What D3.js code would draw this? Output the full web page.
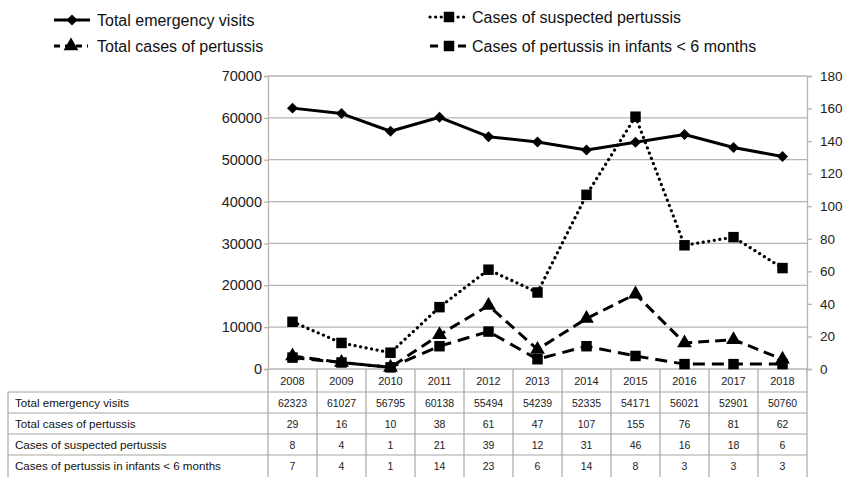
<!DOCTYPE html>
<html>
<head>
<meta charset="utf-8">
<script src="https://cdn.jsdelivr.net/npm/d3@7"></script>
<style>
  html, body { margin: 0; padding: 0; background: #fff; }
  svg { display: block; font-family: "Liberation Sans", Arial, Helvetica, sans-serif; }
</style>
</head>
<body>
<svg id="chart" width="843" height="477"></svg>
<script>
// ---- data ----
const years = ["2008","2009","2010","2011","2012","2013","2014","2015","2016","2017","2018"];
const emergencyVisits = [62323, 61027, 56795, 60138, 55494, 54239, 52335, 54171, 56021, 52901, 50760];
const totalCases = [29, 16, 10, 38, 61, 47, 107, 155, 76, 81, 62];
const suspectedCases = [8, 4, 1, 21, 39, 12, 31, 46, 16, 18, 6];
const infantCases = [7, 4, 1, 14, 23, 6, 14, 8, 3, 3, 3];
const leftTicks = [0, 10000, 20000, 30000, 40000, 50000, 60000, 70000];
const rightTicks = [0, 20, 40, 60, 80, 100, 120, 140, 160, 180];
const rowLabels = ["Total emergency visits", "Total cases of pertussis", "Cases of suspected pertussis", "Cases of pertussis in infants < 6 months"];
const rowValues = [emergencyVisits, totalCases, suspectedCases, infantCases];

// ---- layout ----
const svg = d3.select("#chart");
const plotL = 268, plotR = 807, plotT = 76, plotB = 369;
const gridColor = "#b9b4ae";

const x = d3.scaleBand().domain(years).range([plotL, plotR]);
const xc = d => x(d) + x.bandwidth() / 2;
const yL = d3.scaleLinear().domain([0, 70000]).range([plotB, plotT]);
const yR = d3.scaleLinear().domain([0, 180]).range([plotB, plotT]);

// gridlines
svg.append("g").selectAll("line").data(leftTicks).join("line")
  .attr("x1", plotL).attr("x2", plotR)
  .attr("y1", d => yL(d)).attr("y2", d => yL(d))
  .attr("stroke", gridColor).attr("stroke-width", 1.3);

// left axis
const gL = svg.append("g").attr("transform", `translate(${plotL},0)`)
  .call(d3.axisLeft(yL).tickValues(leftTicks).tickSize(4).tickPadding(2).tickFormat(d3.format("d")));
gL.select(".domain").attr("stroke", gridColor).attr("stroke-width", 1.3);
gL.selectAll(".tick line").attr("stroke", gridColor).attr("stroke-width", 1.3);
gL.selectAll("text").attr("font-size", 14.5).attr("fill", "#222").attr("font-family", "Liberation Sans, Arial, sans-serif");

// right axis
const gR = svg.append("g").attr("transform", `translate(${plotR},0)`)
  .call(d3.axisRight(yR).tickValues(rightTicks).tickSize(5).tickPadding(8));
gR.select(".domain").attr("stroke", gridColor).attr("stroke-width", 1.3);
gR.selectAll(".tick line").attr("stroke", gridColor).attr("stroke-width", 1.3);
gR.selectAll("text").attr("font-size", 13.5).attr("fill", "#222").attr("font-family", "Liberation Sans, Arial, sans-serif");

// ---- series ----
const series = [
  { values: emergencyVisits, y: yL, dash: null, symbol: "diamond" },
  { values: totalCases, y: yR, dash: "0.1 5.5", cap: "round", symbol: "square" },
  { values: suspectedCases, y: yR, dash: "11 6", symbol: "triangle" },
  { values: infantCases, y: yR, dash: "12 7", symbol: "square" }
];

function symbolPath(kind) {
  if (kind === "diamond") return d3.symbol().type(d3.symbolSquare).size(60)();
  if (kind === "square") return d3.symbol().type(d3.symbolSquare).size(110)();
  return d3.symbol().type(d3.symbolTriangle).size(95)();
}
function symbolTransform(kind, px, py) {
  return kind === "diamond" ? `translate(${px},${py}) rotate(45)` : `translate(${px},${py})`;
}

series.forEach(s => {
  const line = d3.line().x((d, i) => xc(years[i])).y(d => s.y(d));
  svg.append("path").datum(s.values)
    .attr("d", line).attr("fill", "none").attr("stroke", "#000")
    .attr("stroke-width", s.cap ? 3.2 : 3)
    .attr("stroke-linecap", s.cap || "butt")
    .attr("stroke-linejoin", "round")
    .attr("stroke-dasharray", s.dash);
  svg.append("g").selectAll("path").data(s.values).join("path")
    .attr("d", symbolPath(s.symbol))
    .attr("transform", (d, i) => symbolTransform(s.symbol, xc(years[i]), s.y(d)))
    .attr("fill", "#000");
});

// ---- legend ----
const legend = [
  { label: "Total emergency visits", x1: 54, x2: 90, tx: 97, y: 20, s: series[0] },
  { label: "Total cases of pertussis", x1: 54, x2: 88, tx: 97, y: 46, s: series[2], dash: "6 5" },
  { label: "Cases of suspected pertussis", x1: 430, x2: 468, tx: 472, y: 17, s: series[1] },
  { label: "Cases of pertussis in infants < 6 months", x1: 430, x2: 468, tx: 472, y: 46, s: series[3], dash: "8 6" }
];
legend.forEach(l => {
  svg.append("line").attr("x1", l.x1).attr("x2", l.x2).attr("y1", l.y).attr("y2", l.y)
    .attr("stroke", "#000").attr("stroke-width", l.s.cap ? 3.2 : 3)
    .attr("stroke-linecap", l.s.cap || "butt")
    .attr("stroke-dasharray", l.dash || l.s.dash);
  svg.append("path").attr("d", symbolPath(l.s.symbol))
    .attr("transform", symbolTransform(l.s.symbol, (l.x1 + l.x2) / 2, l.y)).attr("fill", "#000");
  svg.append("text").attr("x", l.tx).attr("y", l.y + 5.5).attr("font-size", 16).attr("fill", "#111").text(l.label);
});

// ---- data table ----
const tblL = 8, rowH = 21, yearRowB = 392;
const tableColor = "#aaa5a0";
const tg = svg.append("g");
const colEdges = years.map(d => x(d)).concat([plotR]);
tg.selectAll("line.v").data(colEdges).join("line").attr("class", "v")
  .attr("x1", d => d).attr("x2", d => d).attr("y1", plotB).attr("y2", 477)
  .attr("stroke", tableColor).attr("stroke-width", 1.2);
tg.append("line").attr("x1", tblL).attr("x2", tblL).attr("y1", yearRowB).attr("y2", 477)
  .attr("stroke", tableColor).attr("stroke-width", 1.2);
const hLines = d3.range(4).map(i => yearRowB + i * rowH);
tg.selectAll("line.h").data(hLines).join("line").attr("class", "h")
  .attr("x1", tblL).attr("x2", plotR).attr("y1", d => d).attr("y2", d => d)
  .attr("stroke", tableColor).attr("stroke-width", 1.2);
tg.selectAll("text.yr").data(years).join("text").attr("class", "yr")
  .attr("x", d => xc(d)).attr("y", 385).attr("text-anchor", "middle")
  .attr("font-size", 11).attr("fill", "#222").text(d => d);
rowLabels.forEach((lab, r) => {
  const cy = yearRowB + r * rowH + rowH / 2 + 4;
  tg.append("text").attr("x", 15).attr("y", cy + 0.5).attr("font-size", 11.6).attr("fill", "#111").text(lab);
  tg.selectAll(null).data(rowValues[r]).join("text")
    .attr("x", (d, i) => xc(years[i])).attr("y", cy)
    .attr("text-anchor", "middle").attr("font-size", 10.5).attr("fill", "#222").text(d => d);
});
</script>
</body>
</html>
